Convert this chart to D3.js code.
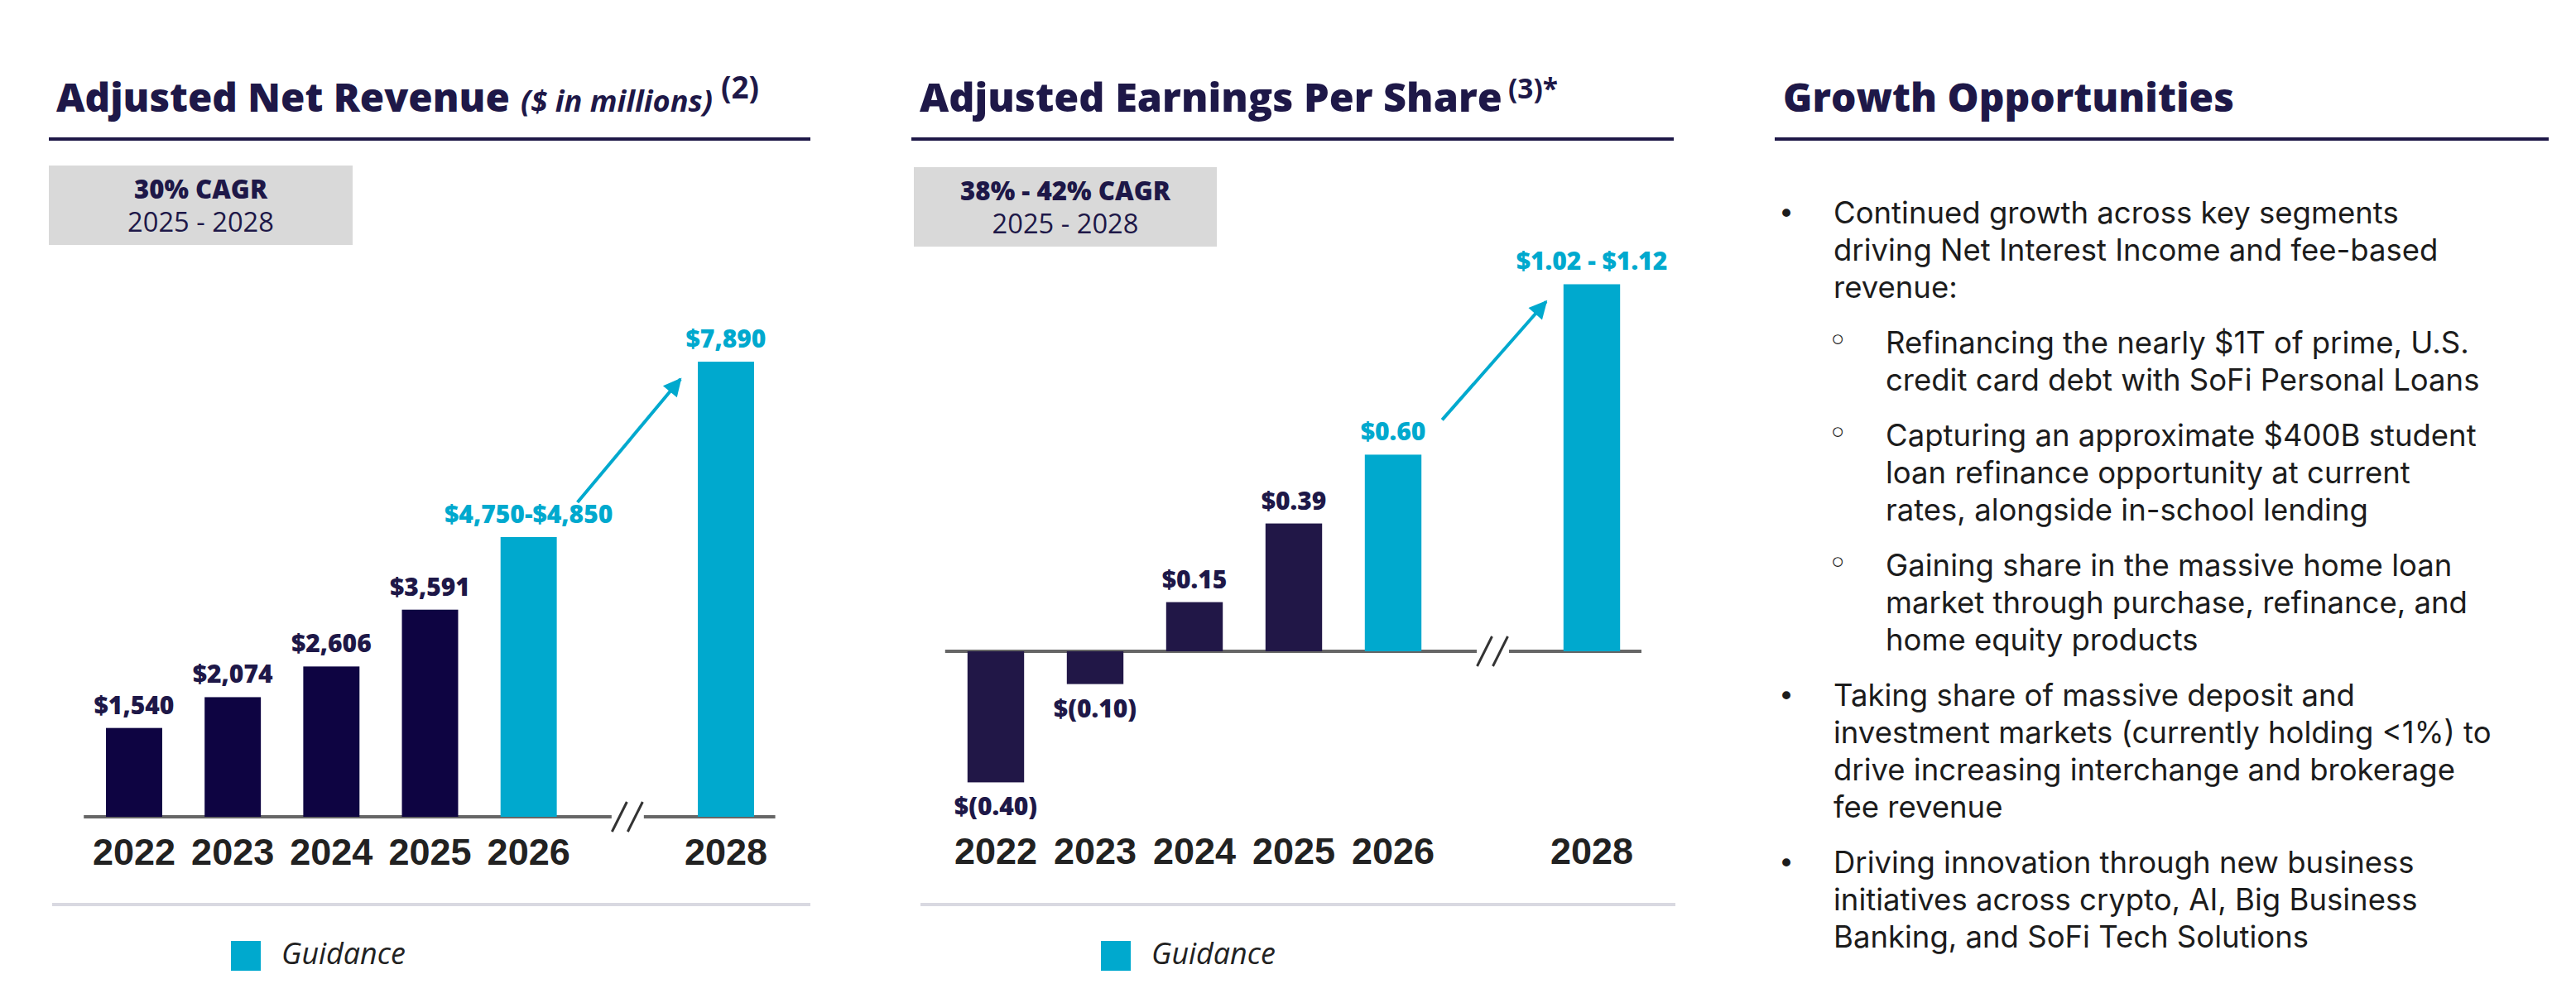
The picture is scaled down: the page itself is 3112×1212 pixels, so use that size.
<!DOCTYPE html>
<html><head><meta charset="utf-8">
<script src="https://cdn.jsdelivr.net/npm/d3@7"></script>
<style>html,body{margin:0;padding:0;background:#fff}svg{display:block}</style>
</head><body>
<script>
// ---------------- DATA ----------------
const years = [2022, 2023, 2024, 2025, 2026, 2028];
const yearLabels = ["2022", "2023", "2024", "2025", "2026", "2028"];
const revenueValues = [1540, 2074, 2606, 3591, 4850, 7890];
const revenueLabels = ["$1,540", "$2,074", "$2,606", "$3,591", "$4,750-$4,850", "$7,890"];
const epsValues = [-0.40, -0.10, 0.15, 0.39, 0.60, 1.12];
const epsLabels = ["$(0.40)", "$(0.10)", "$0.15", "$0.39", "$0.60", "$1.02 - $1.12"];
const isGuidance = [false, false, false, false, true, true];
const revenueCagr = ["30% CAGR", "2025 - 2028"];
const epsCagr = ["38% - 42% CAGR", "2025 - 2028"];
const legendLabel = "Guidance";
const bullets = [
  {level: 0, lines: ["Continued growth across key segments", "driving Net Interest Income and fee-based", "revenue:"]},
  {level: 1, lines: ["Refinancing the nearly $1T of prime, U.S.", "credit card debt with SoFi Personal Loans"]},
  {level: 1, lines: ["Capturing an approximate $400B student", "loan refinance opportunity at current", "rates, alongside in-school lending"]},
  {level: 1, lines: ["Gaining share in the massive home loan", "market through purchase, refinance, and", "home equity products"]},
  {level: 0, lines: ["Taking share of massive deposit and", "investment markets (currently holding <1%) to", "drive increasing interchange and brokerage", "fee revenue"]},
  {level: 0, lines: ["Driving innovation through new business", "initiatives across crypto, AI, Big Business", "Banking, and SoFi Tech Solutions"]}
];

// ---------------- STYLE ----------------
const NAVY = "#1e1848";
const REV_BAR = "#0e0442";
const EPS_BAR = "#211747";
const CYAN = "#00a9ce";
const TEXT = "#1c1c1c";
const FONT = "'Open Sans', 'Noto Sans', sans-serif";
const BODYFONT = "Inter, 'Open Sans', sans-serif";
const YEARFONT = "'Liberation Sans', Arial, sans-serif";

const W = 3112, H = 1212;
const svg = d3.select("body").append("svg").attr("width", W).attr("height", H)
  .attr("viewBox", `0 0 ${W} ${H}`);

function fit(sel, target) {
  const w = sel.node().getComputedTextLength();
  const fs = parseFloat(sel.attr("font-size"));
  if (w > 0) sel.attr("font-size", fs * target / w);
  return sel;
}

const defs = svg.append("defs");
defs.append("marker").attr("id", "arrowhead")
  .attr("viewBox", "0 0 10 10").attr("refX", 9).attr("refY", 5)
  .attr("markerUnits", "userSpaceOnUse").attr("markerWidth", 26).attr("markerHeight", 22)
  .attr("orient", "auto")
  .append("path").attr("d", "M0,0 L10,5 L0,10 Z").attr("fill", CYAN);

// ---------------- HEADERS ----------------
function header(x0, x1, parts) {
  const t = svg.append("text").attr("font-family", FONT).attr("fill", NAVY);
  parts.forEach(p => {
    const s = t.append("tspan").attr("x", p.x).attr("y", p.y)
      .attr("font-weight", p.weight || 800)
      .attr("font-style", p.italic ? "italic" : "normal")
      .attr("font-size", p.size).text(p.text);
    fit(s, p.w);
  });
  svg.append("line").attr("x1", x0).attr("x2", x1).attr("y1", 168).attr("y2", 168)
    .attr("stroke", NAVY).attr("stroke-width", 4);
}
header(59, 979, [
  {text: "Adjusted Net Revenue", x: 68, y: 135, size: 46, w: 548},
  {text: "($ in millions)", x: 629, y: 135, size: 34, w: 232, italic: true, weight: 700},
  {text: "(2)", x: 871, y: 119, size: 26, w: 46, weight: 700}
]);
header(1101, 2022, [
  {text: "Adjusted Earnings Per Share", x: 1111, y: 135, size: 46, w: 704},
  {text: "(3)*", x: 1822, y: 119, size: 26, w: 60, weight: 700}
]);
header(2144, 3079, [
  {text: "Growth Opportunities", x: 2154, y: 135, size: 46, w: 545}
]);

// ---------------- CAGR BOXES ----------------
function cagrBox(x, y, w, h, lines, w1, w2) {
  svg.append("rect").attr("x", x).attr("y", y).attr("width", w).attr("height", h).attr("fill", "#d9d9d9");
  const cx = x + w / 2;
  const t = svg.append("text").attr("text-anchor", "middle").attr("font-family", FONT).attr("fill", NAVY);
  const t1 = t.append("tspan").attr("x", cx).attr("y", y + 40)
    .attr("font-weight", 800).attr("font-size", 28).text(lines[0]);
  fit(t1, w1);
  const t2 = t.append("tspan").attr("x", cx).attr("y", y + 80)
    .attr("font-weight", 400).attr("font-size", 29).text(lines[1]);
  fit(t2, w2);
}
cagrBox(59, 200, 367, 96, revenueCagr, 161, 177);
cagrBox(1104, 202, 366, 96, epsCagr, 254, 177);

// ---------------- BAR CHARTS ----------------
function barChart(opt) {
  const x = d3.scaleLinear().domain([2022, 2028]).range(opt.xRange);
  const y = d3.scaleLinear().domain(opt.yDomain).range(opt.yRange);
  const step = x(2023) - x(2022);
  const bw = step * 0.57;
  const y0 = y(0);
  const g = svg.append("g");
  const data = years.map((yr, i) => ({yr, v: opt.values[i], label: opt.labels[i], guid: isGuidance[i], yl: yearLabels[i]}));

  // baseline with break
  const xb = x(2027);
  const left = x(2022) - step * 0.51, right = x(2028) + step * 0.5;
  g.append("line").attr("x1", left).attr("x2", xb - 19).attr("y1", y0).attr("y2", y0)
    .attr("stroke", "#666").attr("stroke-width", 4);
  g.append("line").attr("x1", xb + 20).attr("x2", right).attr("y1", y0).attr("y2", y0)
    .attr("stroke", "#666").attr("stroke-width", 4);

  g.selectAll("rect.bar").data(data).join("rect").attr("class", "bar")
    .attr("x", d => x(d.yr) - bw / 2).attr("width", bw)
    .attr("y", d => Math.min(y(d.v), y0)).attr("height", d => Math.abs(y(d.v) - y0))
    .attr("fill", d => d.guid ? CYAN : opt.barColor);

  // break slashes
  [-9.5, 9.5].forEach(dx => {
    g.append("line").attr("x1", xb + dx - 9).attr("y1", y0 + 18).attr("x2", xb + dx + 9).attr("y2", y0 - 18)
      .attr("stroke", "#333").attr("stroke-width", 3);
  });

  // value labels
  g.selectAll("text.val").data(data).join("text").attr("class", "val")
    .attr("x", d => x(d.yr)).attr("y", d => d.v >= 0 ? y(d.v) - 17 : y(d.v) + 40)
    .attr("text-anchor", "middle").attr("font-family", FONT).attr("font-weight", 800)
    .attr("font-size", 30).attr("fill", d => d.guid ? CYAN : NAVY).text(d => d.label);

  // year labels
  g.selectAll("text.yr").data(data).join("text").attr("class", "yr")
    .attr("x", d => x(d.yr)).attr("y", opt.yearY)
    .attr("text-anchor", "middle").attr("font-family", YEARFONT).attr("font-weight", 700)
    .attr("font-size", 45).attr("fill", "#222").text(d => d.yl);

  // arrow
  const i26 = years.indexOf(2026), i28 = years.indexOf(2028);
  g.append("line")
    .attr("x1", x(2026) + bw / 2 + 25).attr("y1", y(opt.values[i26]) - 42)
    .attr("x2", x(2028) - bw / 2 - 21).attr("y2", y(opt.values[i28]) + 21)
    .attr("stroke", CYAN).attr("stroke-width", 4).attr("marker-end", "url(#arrowhead)");

  // separator
  g.append("line").attr("x1", opt.sep[0]).attr("x2", opt.sep[1]).attr("y1", 1093).attr("y2", 1093)
    .attr("stroke", "#d9d9e1").attr("stroke-width", 4);

  // legend
  g.append("rect").attr("x", opt.legendX).attr("y", 1137).attr("width", 36).attr("height", 36).attr("fill", CYAN);
  const lt = g.append("text").attr("x", opt.legendX + 61).attr("y", 1165)
    .attr("font-family", FONT).attr("font-style", "italic").attr("font-size", 31).attr("fill", "#222").text(legendLabel);
  fit(lt, 150);
}

barChart({
  values: revenueValues, labels: revenueLabels, barColor: REV_BAR,
  xRange: [162, 877], yDomain: [0, 8000], yRange: [987, 987 - 8000 * 0.0697],
  yearY: 1045, sep: [63, 979], legendX: 279
});
barChart({
  values: epsValues, labels: epsLabels, barColor: EPS_BAR,
  xRange: [1203, 1923], yDomain: [0, 1], yRange: [787, 787 - 396],
  yearY: 1044, sep: [1112, 2024], legendX: 1330
});

// ---------------- BULLETS ----------------
const body = svg.append("g");
const probe = body.append("text").attr("font-family", BODYFONT).attr("font-size", 100)
  .text("investment markets (currently holding <1%) to");
const bodySize = Math.min(100 * 852 / probe.node().getComputedTextLength(), 36.5);
probe.remove();

let by = 270;
bullets.forEach(b => {
  const tx = b.level === 0 ? 2215 : 2278;
  const bx = b.level === 0 ? 2158 : 2220;
  body.append("text").attr("x", bx).attr("y", b.level === 0 ? by : by - 2).attr("text-anchor", "middle")
    .attr("font-family", "'DejaVu Sans', sans-serif").attr("font-size", b.level === 0 ? 34 : 40)
    .attr("fill", TEXT).text(b.level === 0 ? "•" : "◦");
  const para = body.append("text").attr("font-family", BODYFONT).attr("font-size", bodySize).attr("fill", TEXT);
  b.lines.forEach(line => {
    para.append("tspan").attr("x", tx).attr("y", by).text(line);
    by += 45;
  });
  by += 22;
});
</script>
</body></html>
